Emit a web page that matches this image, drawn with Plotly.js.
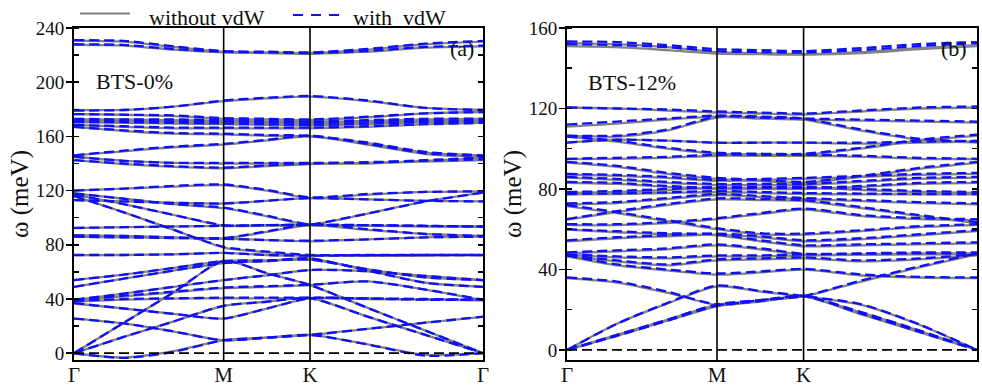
<!DOCTYPE html>
<html>
<head>
<meta charset="utf-8">
<script src="https://cdn.plot.ly/plotly-3.0.1.min.js"></script>
<style>html,body{margin:0;padding:0;background:#fff;}#chart{width:982px;height:387px;}</style>
</head>
<body>
<div id="chart"></div>
<script>
// High-symmetry path (hexagonal BZ): labels and positions
const kLabels = ['Γ', 'M', 'K', 'Γ'];
const kPos = [0, 0.577, 0.910, 1.577];
// q-points at which band energies were read: Γ, ΓM/3, 2ΓM/3, M, MK/2, K, KΓ/3, 2KΓ/3, Γ
const qGrid = [0, 0.192, 0.385, 0.577, 0.744, 0.910, 1.132, 1.355, 1.577];

// Panel (a) BTS-0%, phonon energies (meV), without vdW
const bts0_noVdW = [
  [230.5, 230, 226, 222.5, 222, 221.5, 224, 228, 230],
  [227.5, 227, 224, 222, 221.5, 221, 222.5, 225.5, 226.5],
  [179.5, 179.5, 182, 186, 188, 189.3, 186, 181, 179.5],
  [176.5, 176, 175, 173, 172.5, 172, 174, 177, 178],
  [172.5, 172.5, 172, 171.5, 171, 170.5, 171.5, 172.5, 173],
  [171.5, 171.5, 171, 170.5, 170, 169.5, 170.5, 171.5, 172],
  [170.5, 170, 169.5, 169, 168.5, 168, 169, 170.5, 171],
  [168.5, 167, 166, 166, 166, 166, 167, 169, 170],
  [167, 164, 162, 161.5, 160.5, 160, 155, 148, 146],
  [146, 149, 152, 154, 157, 160, 154, 147, 145],
  [145, 142, 140.5, 140, 140, 140, 140, 142, 144],
  [142.5, 139.5, 137.5, 136.5, 138, 139.5, 140.5, 141.5, 142.5],
  [120, 121.5, 123, 124, 120, 114.5, 117, 119, 119.5],
  [117, 110, 102, 94, 94.3, 94.6, 103, 112, 118.5],
  [113, 112, 111, 110.5, 112.5, 114.5, 113.5, 112.5, 112],
  [116, 104, 91, 78, 74.5, 72, 72, 72.2, 72.4],
  [92.3, 93, 93.5, 94, 94.3, 94.6, 94, 93.5, 93.3],
  [87, 86.5, 85.5, 84.7, 89.5, 94.6, 91, 88, 86.5],
  [85.8, 85.5, 85, 84.5, 83.5, 82.6, 84, 85.5, 86],
  [118, 114, 110, 107, 101, 94.6, 94.2, 93.8, 93.5],
  [72.4, 72.5, 73, 74, 72.5, 72, 72, 72.2, 72.4],
  [54, 58, 63, 68, 68.5, 69, 62, 56, 54],
  [49, 55, 61, 66.5, 68, 70, 61, 52, 49],
  [39.2, 44, 49, 54, 57.5, 61.3, 60.5, 57, 54],
  [39, 42, 45, 48, 49, 50.3, 53, 47, 39.2],
  [38, 39.5, 40.3, 40.5, 40.5, 40.6, 40.2, 39.7, 39.2],
  [36.7, 33, 29, 25.6, 33, 40.6, 40, 39.5, 39],
  [0, 12, 23.5, 35, 38, 40.6, 27, 13.5, 0],
  [0, 22.5, 45, 68, 59, 50.3, 33.5, 16.7, 0],
  [25.6, 22, 16, 9.6, 11.5, 13.5, 18, 22.5, 26.9],
  [0, -3.2, 1.5, 9.6, 11.5, 13.5, 6.5, -1.2, 0]
];
// Panel (a) BTS-0%, with vdW
const bts0_vdW = [
  [231, 230.5, 226.5, 223, 222.5, 222, 224.5, 228.5, 230.5],
  [228, 227.5, 224.5, 222.5, 222, 221.5, 223, 226, 227],
  [179, 179.5, 182, 186.5, 188.5, 189.8, 186.5, 181, 179.5],
  [176.5, 176, 175.5, 173.5, 173, 172.5, 174.5, 177, 178],
  [173, 172.5, 172.5, 172, 171.5, 171, 172, 173, 173],
  [171.5, 171.5, 171, 171, 170.5, 170, 171, 171.5, 172],
  [170.5, 170.5, 170, 169.5, 169, 168.5, 169.5, 170.5, 171],
  [168.5, 167.5, 166.5, 166.5, 166.5, 166.5, 167.5, 169, 170],
  [167, 164.5, 162.5, 162, 161, 160.5, 155.5, 148.5, 146],
  [146, 149.5, 152.5, 154.5, 157.5, 160.5, 154.5, 147.5, 145.5],
  [145, 142, 140.5, 140.5, 140.5, 140.5, 140.5, 142.5, 144.5],
  [142.5, 140, 138, 137, 138.5, 140, 141, 142, 143],
  [120, 121.5, 123.5, 124.5, 120.5, 115, 117.5, 119, 119.5],
  [117, 110, 102, 94.5, 94.5, 95, 103, 112, 118.5],
  [113, 112, 111, 110.5, 112.5, 114.5, 113.5, 112.5, 112],
  [116, 104, 91, 78.5, 75, 72.5, 72.5, 72.5, 72.5],
  [92.5, 93, 93.5, 94, 94.5, 95, 94.5, 94, 93.5],
  [87, 86.5, 85.5, 85, 90, 95, 91.5, 88, 86.5],
  [86, 85.5, 85, 84.5, 83.5, 83, 84, 85.5, 86],
  [118, 114, 110, 107.5, 101.5, 95, 94.5, 94, 93.5],
  [72.5, 72.5, 73, 74, 72.5, 72, 72.3, 72.5, 72.5],
  [54, 58, 63, 68, 68.5, 69, 62, 56, 54],
  [49, 55, 61, 66.5, 68, 70, 61, 52, 49],
  [39.5, 44, 49, 54, 57.5, 61.5, 60.5, 57, 54],
  [39.5, 42.5, 45.5, 48.5, 49.5, 50.5, 53, 47, 39.5],
  [38.5, 40, 40.5, 41, 41, 41, 40.5, 40, 39.5],
  [37, 33, 29, 25.6, 33, 40.6, 40.3, 39.5, 39.5],
  [0, 12, 23.5, 35, 38, 40.6, 27, 13.5, 0],
  [0, 22.5, 45, 68, 59, 50.3, 33.5, 16.7, 0],
  [25.6, 22, 16, 9.6, 11.5, 13.5, 18, 22.5, 27],
  [0, -3.5, 1, 9.6, 11.5, 13.5, 6.5, -1.8, 0]
];

// Panel (b) BTS-12%, without vdW
const bts12_noVdW = [
  [152.5, 152, 150.5, 148, 147.5, 147, 148, 150, 151.5],
  [151, 150.5, 149, 147.3, 147, 146.8, 147.5, 149.5, 151],
  [120.5, 120, 119, 118, 117.5, 117, 118.5, 120, 120.5],
  [111, 112.5, 114.5, 116, 115.5, 114.5, 109, 104.5, 103],
  [106.5, 106, 109, 115.5, 115, 114.5, 114, 113.5, 113],
  [103, 104.5, 104, 103, 103, 103, 102.5, 103, 103.5],
  [106, 103.5, 100, 97.5, 97.2, 97, 100, 104, 106.4],
  [94.8, 95, 95.5, 96.5, 96.5, 96.5, 96, 95, 94.8],
  [93.1, 91, 87.5, 85, 84, 83, 86, 90, 93],
  [87.2, 86.5, 85.5, 84, 84.5, 85, 86, 87, 87.5],
  [85.6, 84.5, 83, 82, 82, 82, 83.5, 85, 85.6],
  [83.1, 82.5, 81, 80, 80, 80, 81, 82.5, 83],
  [78, 78.5, 79.5, 80.5, 80.5, 80.5, 79.5, 78.5, 78],
  [77.3, 77.5, 78, 78.5, 78, 77.5, 77.3, 77.3, 77.3],
  [72.3, 73, 75, 77, 76, 75, 74, 73, 72.3],
  [71.5, 68, 64, 60, 57.5, 57.3, 59, 61, 62],
  [64.8, 68.5, 72, 74.8, 74.5, 74, 70.5, 66.5, 63],
  [62, 62, 63, 65, 67.5, 69.8, 66.5, 65, 64.5],
  [59.8, 58.5, 57.5, 57, 54, 51.5, 52, 52.5, 53],
  [54, 55.5, 56.5, 57.3, 56, 54, 55, 57, 59],
  [48, 49, 50, 52, 50, 47.3, 47.5, 48, 48],
  [47.3, 46, 45.5, 46.5, 46.5, 47, 47.3, 47.5, 47.5],
  [46.5, 44, 42, 44.5, 45, 45.5, 44, 45, 47],
  [46.5, 42, 39.5, 37.4, 38.5, 39.9, 37, 36, 35.7],
  [35.7, 33.5, 28.5, 22.4, 24.5, 26.6, 34, 41, 47.5],
  [0, 13, 23, 31.6, 29, 26.6, 22.4, 12.5, 0],
  [0, 7, 14.5, 21.7, 24, 26.6, 17.7, 8.9, 0],
  [0, 7.5, 15, 22.4, 24.5, 26.6, 18.5, 9.5, 0]
];
// Panel (b) BTS-12%, with vdW
const bts12_vdW = [
  [153.3, 153, 151.5, 149.5, 149, 148.5, 150, 152, 153],
  [152, 151.5, 150.5, 148.5, 148, 147.8, 149, 151, 152.5],
  [120.5, 120, 119.5, 118.5, 118, 117.5, 119, 120.5, 121],
  [112, 113.5, 115, 116.5, 116, 115, 109.5, 105, 103.5],
  [106.5, 106.5, 109.5, 116, 115.5, 115, 114.5, 114, 113.5],
  [103, 104.5, 104, 103, 103, 103, 103, 103.5, 104],
  [106, 104, 100.5, 98, 97.5, 97.5, 100.5, 104.5, 107],
  [95, 95.5, 96, 97, 97, 97, 96.5, 95.5, 95],
  [93.5, 91.5, 88, 85.5, 84.5, 83.5, 86.5, 90.5, 93.5],
  [87.5, 87, 86, 84.5, 85, 85.5, 86.5, 87.5, 88],
  [86, 85, 83.5, 82.5, 82.5, 82.5, 84, 85.5, 86],
  [83.5, 83, 81.5, 80.5, 80.5, 80.5, 81.5, 83, 83.5],
  [78.5, 79, 80, 81, 81, 81, 80, 79, 78.5],
  [77.5, 77.8, 78.3, 79, 78.5, 78, 77.7, 77.5, 77.5],
  [72.8, 73.5, 75.5, 77.5, 76.5, 75.5, 74.5, 73.5, 72.8],
  [72, 68.5, 64.5, 60.5, 58, 57.8, 59.5, 61.5, 62.5],
  [65, 69, 72.5, 75.3, 75, 74.5, 71, 67, 63.5],
  [62.5, 62.5, 63.5, 65.5, 68, 70.3, 67, 65.5, 65],
  [60, 59, 58, 57.5, 54.5, 52, 52.5, 53, 53.5],
  [54.5, 56, 57, 57.8, 56.5, 54.5, 55.5, 57.5, 59.5],
  [48.5, 49.5, 50.5, 52.5, 50.5, 47.8, 48, 48.5, 48.5],
  [47.5, 46.5, 46, 47, 47, 47.5, 47.8, 48, 48],
  [47, 44.5, 42.5, 45, 45.5, 46, 44.5, 45.5, 47.5],
  [47, 42.5, 40, 38, 39, 40.3, 37.5, 36.3, 36],
  [36, 34, 29, 22.6, 24.8, 26.8, 34.5, 41.5, 48],
  [0, 13, 23.3, 32, 29.3, 26.8, 22.7, 12.7, 0],
  [0, 7, 14.5, 22, 24.3, 26.8, 18, 9, 0],
  [0, 7.5, 15, 22.6, 24.8, 26.8, 18.8, 9.7, 0]
];

const seriesNames = ['without vdW', 'with  vdW'];
const panelLabels = ['BTS-0%', 'BTS-12%'];
const panelTags = ['(a)', '(b)'];
const yRanges = [[-5, 240], [-5, 160]];

const FONT = '"Liberation Serif", "Times New Roman", Times, serif';
const GRAY = 'rgb(130,130,130)';
const BLUE = 'rgb(15,15,250)';

const traces = [];
function addBands(bands, xa, ya, style) {
  bands.forEach(b => traces.push({
    type: 'scatter', mode: 'lines', x: qGrid, y: b, xaxis: xa, yaxis: ya,
    line: Object.assign({shape: 'spline', smoothing: 0.7}, style),
    showlegend: false, hoverinfo: 'skip'
  }));
}
const grayStyle = {color: GRAY, width: 2.3};
const blueStyle = {color: BLUE, width: 2.3, dash: '10px,5px'};
addBands(bts0_noVdW, 'x', 'y', grayStyle);
addBands(bts0_vdW, 'x', 'y', blueStyle);
addBands(bts12_noVdW, 'x2', 'y2', grayStyle);
addBands(bts12_vdW, 'x2', 'y2', blueStyle);
// dummy traces so the inner right-side tick axes are drawn
traces.push({type: 'scatter', x: [null], y: [null], xaxis: 'x', yaxis: 'y3', showlegend: false, hoverinfo: 'skip'});
traces.push({type: 'scatter', x: [null], y: [null], xaxis: 'x2', yaxis: 'y4', showlegend: false, hoverinfo: 'skip'});

const yDom = [27 / 387, 359 / 387];
const xDomA = [74 / 982, 483 / 982];
const xDomB = [567 / 982, 977 / 982];

function xAxis(dom, anchor) {
  return {
    domain: dom, anchor: anchor, range: [kPos[0], kPos[3]],
    tickmode: 'array', tickvals: kPos, ticktext: kLabels, ticks: '',
    ticklabelstandoff: -5,
    tickfont: {family: FONT, size: 21, color: '#111'},
    showline: true, mirror: true, linecolor: '#000', linewidth: 2,
    showgrid: false, zeroline: false, fixedrange: true
  };
}
function yAxis(range, anchor) {
  return {
    domain: yDom, anchor: anchor, range: range,
    tickmode: 'linear', tick0: 0, dtick: 40,
    ticks: 'outside', ticklen: 6, tickwidth: 1.5, tickcolor: '#000',
    ticklabelstandoff: -2,
    minor: {ticks: 'inside', dtick: 20, tick0: 0, ticklen: 5, tickwidth: 1.5, tickcolor: '#000'},
    tickfont: {family: FONT, size: 19, color: '#111'},
    showline: true, mirror: true, linecolor: '#000', linewidth: 2,
    showgrid: false, zeroline: false, fixedrange: true,
    title: {text: 'ω (meV)', font: {family: FONT, size: 25, color: '#111'}, standoff: 0}
  };
}
function yInner(range, over, anchor) {
  return {
    overlaying: over, anchor: anchor, side: 'right', range: range,
    tickmode: 'linear', tick0: 0, dtick: 20,
    ticks: 'inside', ticklen: 5, tickwidth: 1.5, tickcolor: '#000',
    showticklabels: false, showline: false, showgrid: false, zeroline: false, fixedrange: true
  };
}

const shapes = [];
[['x', 'y'], ['x2', 'y2']].forEach(([xa, ya]) => {
  [kPos[1], kPos[2]].forEach(k => shapes.push({
    type: 'line', xref: xa, yref: ya + ' domain', x0: k, x1: k, y0: 0, y1: 1,
    line: {color: '#000', width: 1.6}
  }));
  shapes.push({
    type: 'line', xref: xa, yref: ya, x0: kPos[0], x1: kPos[3], y0: 0, y1: 0,
    line: {color: '#000', width: 1.8, dash: '10px,5px'}
  });
});
// legend samples
shapes.push({type: 'line', xref: 'paper', yref: 'paper', x0: 80 / 982, x1: 130 / 982,
  y0: 1 - 13.5 / 387, y1: 1 - 13.5 / 387, line: {color: GRAY, width: 2}});
shapes.push({type: 'line', xref: 'paper', yref: 'paper', x0: 293 / 982, x1: 341 / 982,
  y0: 1 - 15 / 387, y1: 1 - 15 / 387, line: {color: BLUE, width: 2.2, dash: '10px,8px'}});

const annFont = {family: FONT, size: 22, color: '#111'};
const annotations = [
  {xref: 'paper', yref: 'paper', x: 147 / 982, y: 1 - 17 / 387, xanchor: 'left', yanchor: 'middle',
   text: seriesNames[0], showarrow: false, font: annFont},
  {xref: 'paper', yref: 'paper', x: 351 / 982, y: 1 - 17 / 387, xanchor: 'left', yanchor: 'middle',
   text: seriesNames[1].replace('  ', '\u00a0 '), showarrow: false, font: annFont},
  {xref: 'paper', yref: 'paper', x: 134 / 982, y: 1 - 81 / 387, xanchor: 'center', yanchor: 'middle',
   text: panelLabels[0], showarrow: false, font: annFont},
  {xref: 'paper', yref: 'paper', x: 632 / 982, y: 1 - 82 / 387, xanchor: 'center', yanchor: 'middle',
   text: panelLabels[1], showarrow: false, font: annFont},
  {xref: 'paper', yref: 'paper', x: 462 / 982, y: 1 - 48 / 387, xanchor: 'center', yanchor: 'middle',
   text: panelTags[0], showarrow: false, font: annFont},
  {xref: 'paper', yref: 'paper', x: 954 / 982, y: 1 - 48 / 387, xanchor: 'center', yanchor: 'middle',
   text: panelTags[1], showarrow: false, font: annFont}
];

const layout = {
  width: 982, height: 387, autosize: false,
  margin: {l: 0, r: 0, t: 0, b: 0, pad: 0},
  paper_bgcolor: '#fff', plot_bgcolor: '#fff',
  showlegend: false,
  font: {family: FONT, color: '#111'},
  xaxis: xAxis(xDomA, 'y'),
  yaxis: yAxis(yRanges[0], 'x'),
  xaxis2: xAxis(xDomB, 'y2'),
  yaxis2: yAxis(yRanges[1], 'x2'),
  yaxis3: yInner(yRanges[0], 'y', 'x'),
  yaxis4: yInner(yRanges[1], 'y2', 'x2'),
  shapes: shapes,
  annotations: annotations
};

Plotly.newPlot('chart', traces, layout, {staticPlot: true, displayModeBar: false});
</script>
</body>
</html>
